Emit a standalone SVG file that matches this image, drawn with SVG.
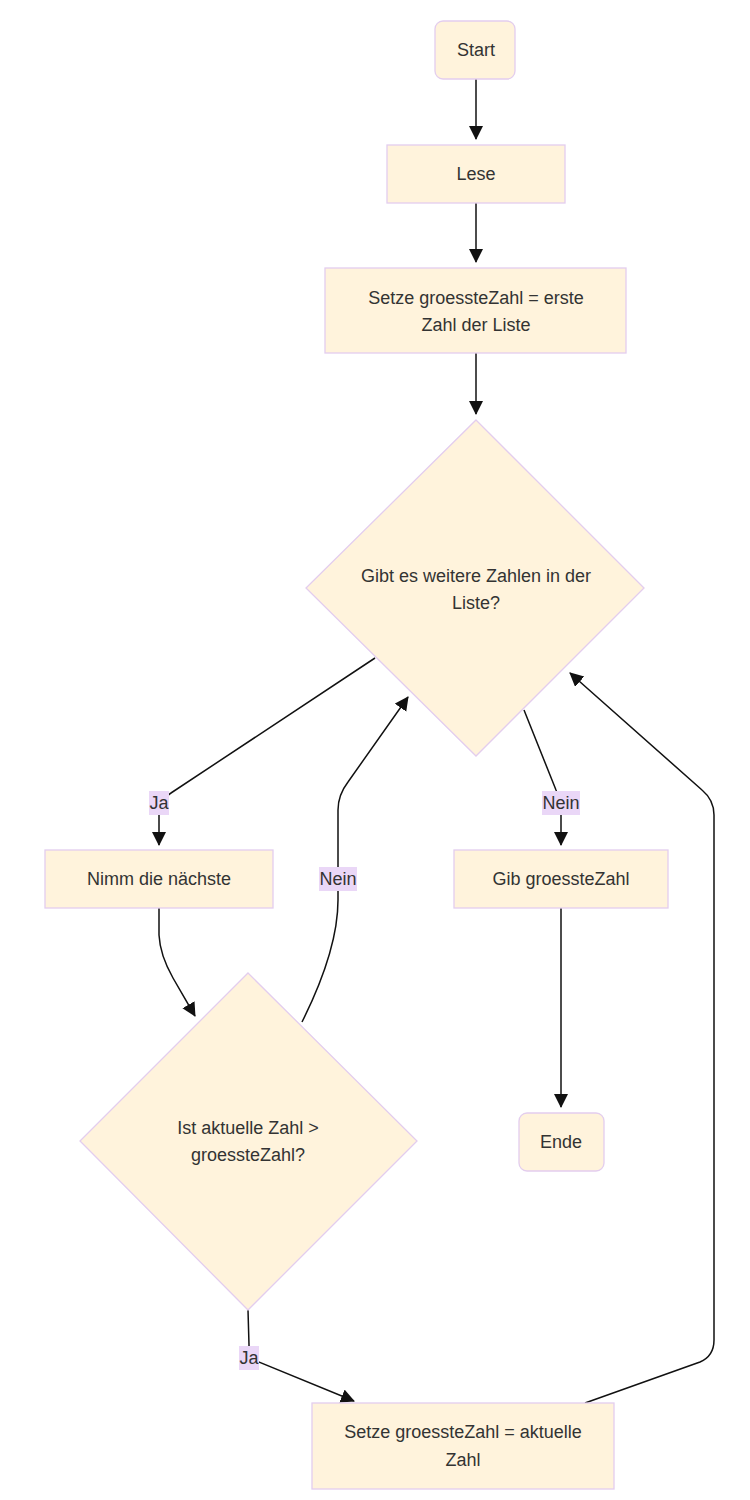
<svg xmlns="http://www.w3.org/2000/svg" width="750" height="1500" viewBox="0 0 750 1500">
<style>
.n{fill:#fff3dc;stroke:#e3cdee;stroke-width:1.3}
.t{font-family:"Liberation Sans",Arial,sans-serif;font-size:18px;fill:#333;text-anchor:middle}
.e{fill:none;stroke:#111;stroke-width:1.5}
.lb{fill:#ead7f7}
</style>
<defs>
<marker id="ah" markerUnits="userSpaceOnUse" markerWidth="16" markerHeight="16" refX="13" refY="7" orient="auto">
<path d="M0,0 L14,7 L0,14 z" fill="#111"/>
</marker>
</defs>
<rect width="750" height="1500" fill="#fff"/>
<g id="edges">
<path class="e" d="M476,79 L476,139" marker-end="url(#ah)"/>
<path class="e" d="M476,203 L476,262" marker-end="url(#ah)"/>
<path class="e" d="M476,353 L476,414" marker-end="url(#ah)"/>
<path class="e" d="M375,658 L171,793 Q159,800 159,815 L159,845" marker-end="url(#ah)"/>
<path class="e" d="M524,710 L556,790 Q561,800 561,815 L561,845" marker-end="url(#ah)"/>
<path class="e" d="M159,908 L159,935 Q160,955 173,978 L195,1016" marker-end="url(#ah)"/>
<path class="e" d="M302,1022 Q338,950 338,900 L338,810 Q338,795 348,782 L408,697" marker-end="url(#ah)"/>
<path class="e" d="M561,908 L561,1107" marker-end="url(#ah)"/>
<path class="e" d="M248,1310 L249,1345 L249,1358 L354,1401" marker-end="url(#ah)"/>
<path class="e" d="M585,1403 L700,1362 Q714,1356 714,1340 L714,815 Q714,800 702,790 L570,673" marker-end="url(#ah)"/>
</g>
<g id="labels">
<rect class="lb" x="149" y="791" width="20" height="24"/><text class="t" x="159" y="809">Ja</text>
<rect class="lb" x="542" y="791" width="38" height="24"/><text class="t" x="561" y="809">Nein</text>
<rect class="lb" x="319" y="867" width="38" height="24"/><text class="t" x="338" y="885">Nein</text>
<rect class="lb" x="239" y="1346" width="20" height="24"/><text class="t" x="249" y="1364">Ja</text>
</g>
<g id="start"><rect class="n" x="435" y="21" width="80" height="58" rx="8"/><text class="t" x="476" y="56">Start</text></g>
<g id="lese"><rect class="n" x="387" y="145" width="178" height="58"/><text class="t" x="476" y="180">Lese</text></g>
<g id="setze1"><rect class="n" x="325" y="268" width="301" height="85"/><text class="t" x="476" y="304">Setze groessteZahl = erste</text><text class="t" x="476" y="331">Zahl der Liste</text></g>
<g id="d1"><polygon class="n" points="476,420 644,588 476,756 306,588"/><text class="t" x="476" y="582">Gibt es weitere Zahlen in der</text><text class="t" x="476" y="609">Liste?</text></g>
<g id="nimm"><rect class="n" x="45" y="850" width="228" height="58"/><text class="t" x="159" y="885">Nimm die nächste</text></g>
<g id="gib"><rect class="n" x="454" y="850" width="214" height="58"/><text class="t" x="561" y="885">Gib groessteZahl</text></g>
<g id="d2"><polygon class="n" points="248,973 417,1141 248,1310 80,1141"/><text class="t" x="248" y="1134">Ist aktuelle Zahl &gt;</text><text class="t" x="248" y="1161">groessteZahl?</text></g>
<g id="ende"><rect class="n" x="519" y="1113" width="85" height="58" rx="8"/><text class="t" x="561" y="1148">Ende</text></g>
<g id="setze2"><rect class="n" x="312" y="1403" width="302" height="86"/><text class="t" x="463" y="1438">Setze groessteZahl = aktuelle</text><text class="t" x="463" y="1466">Zahl</text></g>
</svg>
